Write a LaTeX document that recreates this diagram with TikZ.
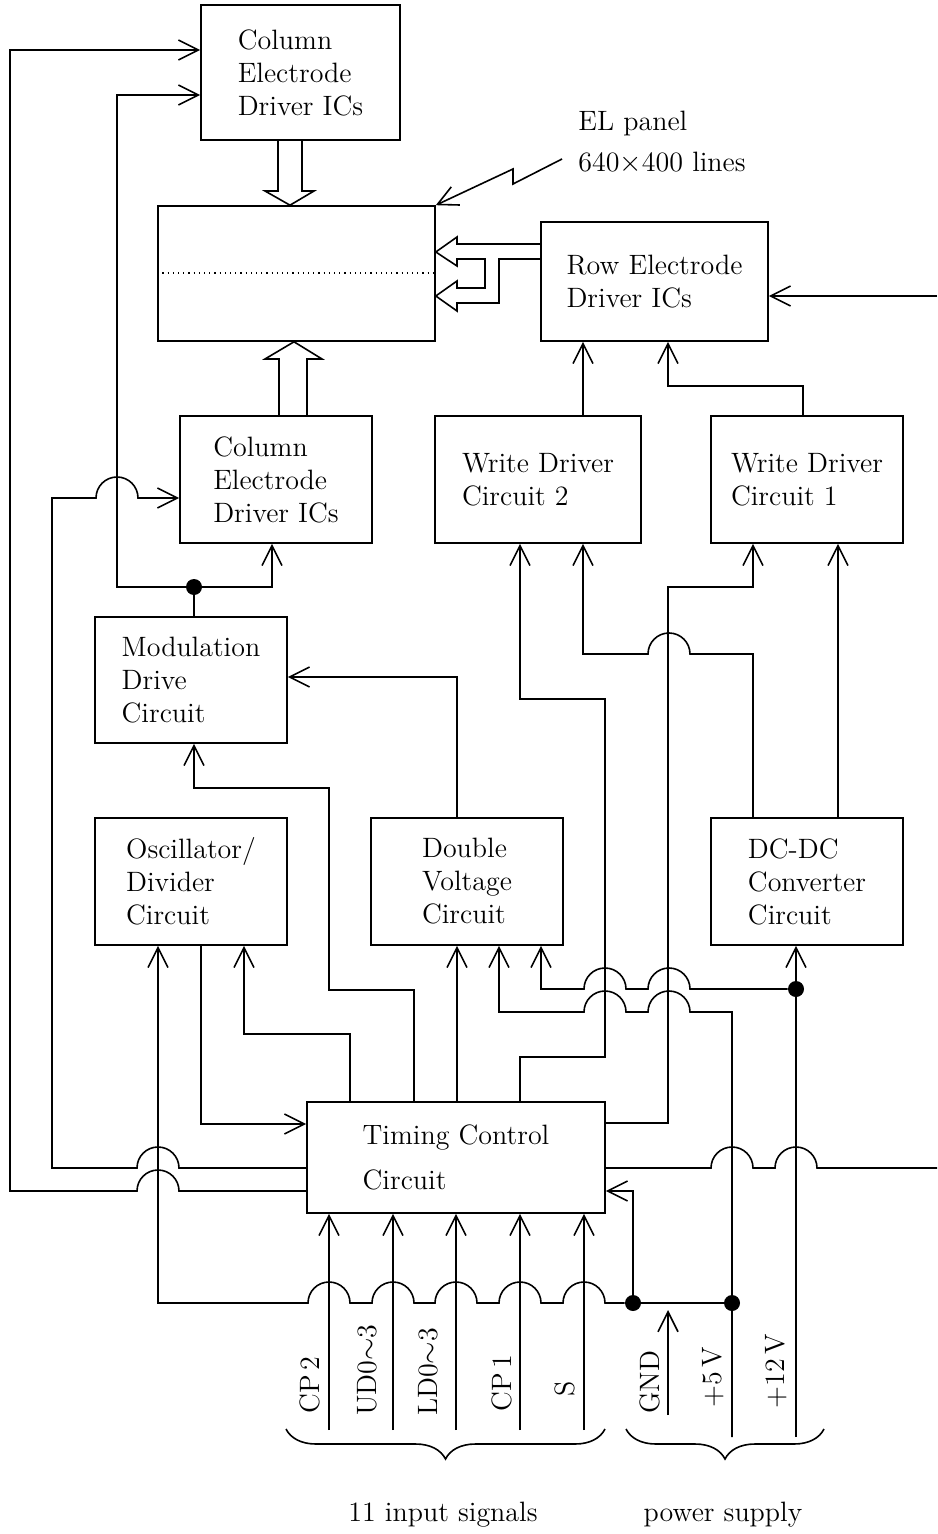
\documentclass[tikz,border=0pt]{standalone}
\usepackage{fontspec}
\usepackage{tikz}
\usetikzlibrary{arrows.meta,calc,decorations.pathreplacing}
\tikzset{
  blk/.style 2 args={draw,line width=0.8pt,minimum width=#1*0.5pt,minimum height=#2*0.5pt,align=left,inner sep=0pt,font=\fontsize{14}{16.5}\selectfont},
  wire/.style={line width=0.8pt,line join=miter},
  arr/.style={wire,-{Straight Barb[length=10pt,width=10pt]}},
  hollow/.style={line width=0.8pt,line join=miter},
  jdot/.style={circle,fill,inner sep=0pt,minimum size=8pt},
  sig/.style={rotate=90,font=\fontsize{14}{16}\selectfont,inner sep=0pt},
  txt/.style={align=left,font=\fontsize{14}{16.5}\selectfont,inner sep=0pt},
  brc/.style={line width=0.8pt,decorate,decoration={brace,mirror,amplitude=15pt}},
}

\begin{document}
\begin{tikzpicture}[x=0.5pt,y=-0.5pt]
  \useasboundingbox (0,0) rectangle (937,1534);

  \node[blk={199}{135}] (colTop) at (300.5,72.5) {Column\\Electrode\\Driver ICs};
  \node[blk={277}{135}] (panel) at (296.5,273.5) {};
  \node[blk={227}{119}] (row) at (654.5,281.5) {Row Electrode\\Driver ICs};
  \node[blk={192}{127}] (colBot) at (276,479.5) {Column\\Electrode\\Driver ICs};
  \node[blk={206}{127}] (wd2) at (538,479.5) {Write Driver\\Circuit 2};
  \node[blk={192}{127}] (wd1) at (807,479.5) {Write Driver\\Circuit 1};
  \node[blk={192}{126}] (mod) at (191,680) {Modulation\\Drive\\Circuit};
  \node[blk={192}{127}] (osc) at (191,881.5) {Oscillator/\\Divider\\Circuit};
  \node[blk={192}{127}] (dv) at (467,881.5) {Double\\Voltage\\Circuit};
  \node[blk={192}{127}] (dcdc) at (807,881.5) {DC-DC\\Converter\\Circuit};
  \node[blk={298}{111}] (tim) at (456,1157.5) {Timing Control\\[6pt]Circuit};

  \node[txt,anchor=west] (ellbl) at (578,142) {EL panel\\[4pt]640$\times$400 lines};

  \node[jdot] (j1) at (194,587) {};
  \node[jdot] (gnd) at (633,1303) {};
  \node[jdot] (p5) at (732,1303) {};
  \node[jdot] (p12) at (796,989) {};
  \coordinate (v5) at (732,1437);
  \coordinate (v12) at (796,1437);

  \draw[dotted,line width=0.6pt] (panel.west |- 0,273) -- (panel.east |- 0,273);
  \draw[arr] ($(ellbl.west)+(-16,17)$) -- ++(-49,25) -- ++(0,-15) -- (panel.north east);

  \draw[hollow] (278,0 |- colTop.south) -- (278,191) -- (265,191) -- (290,0 |- panel.north) -- (314,191) -- (302,191) -- (302,0 |- colTop.south);
  \draw[hollow] (279,0 |- colBot.north) -- (279,359) -- (265,359) -- (294,0 |- panel.south) -- (322,359) -- (307,359) -- (307,0 |- colBot.north);
  \draw[hollow] (row.west |- 0,244) -- (457,244) -- (457,237) -- (panel.east |- 0,252) -- (457,266) -- (457,259) -- (485,259) -- (485,288) -- (457,288) -- (457,281) -- (panel.east |- 0,296) -- (457,311) -- (457,303) -- (499,303) -- (499,259) -- (row.west |- 0,259);

  \draw[arr] (937,296) -- (row.east |- 0,296);
  \draw[arr] (583,0 |- wd2.north) -- (583,0 |- row.south);
  \draw[arr] (803,0 |- wd1.north) -- (803,386) -- (668,386) -- (668,0 |- row.south);

  \draw[arr] (tim.west |- 0,1191) -- (179,1191) arc[start angle=0,end angle=180,radius=10.5pt] -- (10,1191) -- (10,50) -- (colTop.west |- 0,50);
  \draw[arr] (tim.west |- 0,1168) -- (179,1168) arc[start angle=0,end angle=180,radius=10.5pt] -- (52,1168) -- (52,498) -- (96,498) arc[start angle=180,end angle=0,radius=10.5pt] -- (colBot.west |- 0,498);

  \draw[wire] (194,0 |- mod.north) -- (j1);
  \draw[arr] (j1) -- (117,587) -- (117,95) -- (colTop.west |- 0,95);
  \draw[arr] (j1) -- (272,587) -- (272,0 |- colBot.south);

  \draw[arr] (457,0 |- dv.north) -- (457,677) -- (mod.east |- 0,677);
  \draw[arr] (414,0 |- tim.north) -- (414,990) -- (329,990) -- (329,788) -- (194,788) -- (194,0 |- mod.south);

  \draw[arr] (201,0 |- osc.south) -- (201,1124) -- (tim.west |- 0,1124);
  \draw[arr] (350,0 |- tim.north) -- (350,1034) -- (244,1034) -- (244,0 |- osc.south);
  \draw[arr] (gnd) -- (605,1303) arc[start angle=0,end angle=180,radius=10.5pt] -- (541,1303) arc[start angle=0,end angle=180,radius=10.5pt] -- (477,1303) arc[start angle=0,end angle=180,radius=10.5pt] -- (414,1303) arc[start angle=0,end angle=180,radius=10.5pt] -- (350,1303) arc[start angle=0,end angle=180,radius=10.5pt] -- (158,1303) -- (158,0 |- osc.south);

  \draw[arr] (457,0 |- tim.north) -- (457,0 |- dv.south);
  \draw[arr] (v5) -- (732,1012) -- (690,1012) arc[start angle=0,end angle=180,radius=10.5pt] -- (626,1012) arc[start angle=0,end angle=180,radius=10.5pt] -- (499,1012) -- (499,0 |- dv.south);
  \draw[arr] (p12) -- (690,989) arc[start angle=0,end angle=180,radius=10.5pt] -- (626,989) arc[start angle=0,end angle=180,radius=10.5pt] -- (541,989) -- (541,0 |- dv.south);
  \draw[arr] (v12) -- (796,0 |- dcdc.south);

  \draw[arr] (520,0 |- tim.north) -- (520,1057) -- (605,1057) -- (605,699) -- (520,699) -- (520,0 |- wd2.south);
  \draw[arr] (tim.east |- 0,1123) -- (668,1123) -- (668,587) -- (753,587) -- (753,0 |- wd1.south);
  \draw[arr] (753,0 |- dcdc.north) -- (753,654) -- (690,654) arc[start angle=0,end angle=180,radius=10.5pt] -- (583,654) -- (583,0 |- wd2.south);
  \draw[arr] (838,0 |- dcdc.north) -- (838,0 |- wd1.south);

  \draw[wire] (tim.east |- 0,1168) -- (711,1168) arc[start angle=180,end angle=0,radius=10.5pt] -- (775,1168) arc[start angle=180,end angle=0,radius=10.5pt] -- (937,1168);
  \draw[arr] (gnd) -- (633,1191) -- (tim.east |- 0,1191);
  \draw[wire] (gnd) -- (p5);

  \foreach \x in {329,393,456,520,584}
    \draw[arr] (\x,1430) -- (\x,0 |- tim.south);
  \draw[arr] (668,1415) -- (668,1310);

  \node[sig] (lcp2) at (310,1385) {CP\,2};
  \node[sig] (lud) at (367,1370) {UD0$\sim$3};
  \node[sig] (lld) at (428,1372) {LD0$\sim$3};
  \node[sig] (lcp1) at (502,1383) {CP\,1};
  \node[sig] (ls) at (565,1389) {S};
  \node[sig] (lgnd) at (650,1382) {GND};
  \node[sig] (l5) at (713,1377) {$+$5\,V};
  \node[sig] (l12) at (776,1371) {$+$12\,V};

  \draw[brc] (286,1429) -- (605,1429);
  \draw[brc] (626,1429) -- (824,1429);
  \node[txt] (insig) at (443,1515) {11 input signals};
  \node[txt] (pwr) at (723,1515) {power supply};
\end{tikzpicture}
\end{document}
